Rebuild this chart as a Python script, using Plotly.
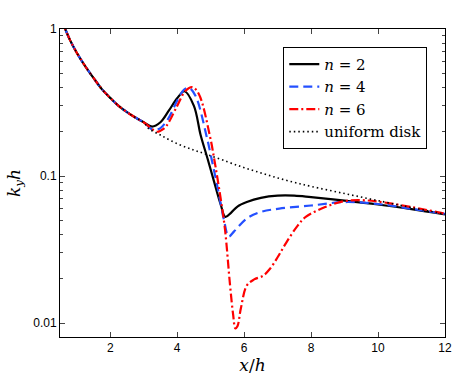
import plotly.graph_objects as go

# shared decay before the bump (all curves coincide here)
x_common = [0.5, 0.6, 0.8, 1.0, 1.25, 1.5, 1.75, 2.0, 2.25, 2.5, 2.75, 3.0]
y_common = [1.2, 1.07, 0.84, 0.69, 0.56, 0.465, 0.39, 0.34, 0.30, 0.272, 0.25, 0.232]

x_n2 = [3.25, 3.5, 3.75, 4.0, 4.22, 4.5, 4.7, 4.9, 5.1, 5.3, 5.44, 5.6, 5.8, 6.08, 6.5, 7.0, 7.5, 8.0, 9.0, 10.0, 11.0, 12.0]
y_n2 = [0.217, 0.232, 0.278, 0.338, 0.377, 0.3, 0.19, 0.133, 0.092, 0.064, 0.0527, 0.056, 0.062, 0.0665, 0.071, 0.0735, 0.0735, 0.0718, 0.068, 0.064, 0.0595, 0.0548]

x_n4 = [3.3, 3.5, 3.73, 4.0, 4.2, 4.35, 4.55, 4.88, 5.0, 5.2, 5.4, 5.54, 5.7, 6.08, 6.5, 7.05, 8.0, 9.0, 10.0, 11.0, 12.0]
y_n4 = [0.205, 0.212, 0.245, 0.325, 0.385, 0.398, 0.35, 0.186, 0.14, 0.085, 0.05, 0.0388, 0.042, 0.0514, 0.057, 0.06, 0.063, 0.0665, 0.0645, 0.0598, 0.0552]

x_n6 = [3.4, 3.6, 3.73, 4.0, 4.25, 4.46, 4.65, 4.98, 5.1, 5.3, 5.43, 5.58, 5.67, 5.74, 5.8, 5.9, 6.08, 6.3, 6.57, 6.76, 7.0, 7.25, 7.6, 7.84, 8.42, 9.0, 9.5, 10.0, 11.0, 12.0]
y_n6 = [0.2, 0.21, 0.228, 0.3, 0.38, 0.402, 0.36, 0.186, 0.133, 0.07, 0.043, 0.018, 0.0115, 0.0092, 0.0095, 0.0125, 0.018, 0.0198, 0.021, 0.0232, 0.028, 0.035, 0.046, 0.0527, 0.0615, 0.0675, 0.0685, 0.067, 0.0615, 0.0555]

x_disk = [3.14, 3.5, 4.0, 4.5, 4.9, 5.5, 6.0, 6.5, 7.0, 7.5, 8.0, 9.0, 10.0, 11.0, 12.0]
y_disk = [0.211, 0.19, 0.166, 0.15, 0.14, 0.125, 0.114, 0.105, 0.097, 0.0905, 0.085, 0.076, 0.068, 0.061, 0.055]

serif = "DejaVu Serif"

fig = go.Figure()
fig.add_trace(go.Scatter(x=x_common + x_n2, y=y_common + y_n2, mode="lines", name="<i>n</i> = 2",
                         line=dict(color="black", width=2.2, shape="spline")))
fig.add_trace(go.Scatter(x=x_common + x_n4, y=y_common + y_n4, mode="lines", name="<i>n</i> = 4",
                         line=dict(color="#2450ff", width=2.2, dash="9px,5px", shape="spline")))
fig.add_trace(go.Scatter(x=x_common + x_n6, y=y_common + y_n6, mode="lines", name="<i>n</i> = 6",
                         line=dict(color="#ff0000", width=2.2, dash="9px,3px,2px,3px", shape="spline")))
fig.add_trace(go.Scatter(x=x_common + x_disk, y=y_common + y_disk, mode="lines", name="uniform disk",
                         line=dict(color="black", width=1.6, dash="1.5px,3px", shape="spline")))

fig.update_layout(
    width=463, height=382,
    margin=dict(l=60, r=11, t=29, b=40),
    plot_bgcolor="white", paper_bgcolor="white",
    font=dict(family="Liberation Sans, Arial, sans-serif", size=12, color="black"),
    legend=dict(x=0.954, y=0.942, xanchor="right", yanchor="top",
                bgcolor="white", bordercolor="black", borderwidth=1,
                font=dict(family=serif, size=15)),
)
fig.update_xaxes(range=[0.5, 12], tickvals=[2, 4, 6, 8, 10, 12], ticks="inside", ticklen=5,
                 showline=True, linecolor="black", linewidth=1, mirror="ticks", showgrid=False, zeroline=False,
                 title=dict(text="<i>x</i>/<i>h</i>", font=dict(family=serif, size=17), standoff=4))
fig.update_yaxes(type="log", range=[-2.095, 0], tickvals=[0.01, 0.1, 1], ticktext=["0.01", "0.1", "1"],
                 ticks="inside", ticklen=5, showline=True, linecolor="black", linewidth=1, mirror="ticks",
                 showgrid=False, zeroline=False,
                 minor=dict(ticks="inside", ticklen=3, tickvals=[0.02, 0.03, 0.04, 0.05, 0.06, 0.07, 0.08, 0.09,
                                                                  0.2, 0.3, 0.4, 0.5, 0.6, 0.7, 0.8, 0.9],
                            showgrid=False),
                 title=dict(text="<i>k<sub>y</sub>h</i>", font=dict(family=serif, size=17), standoff=8))

# drop the default page margin so the figure sits at the window's corner
fig.write_html("out.html", config={"displayModeBar": False},
               post_script="document.body.style.margin='0';document.body.style.overflow='hidden';")
